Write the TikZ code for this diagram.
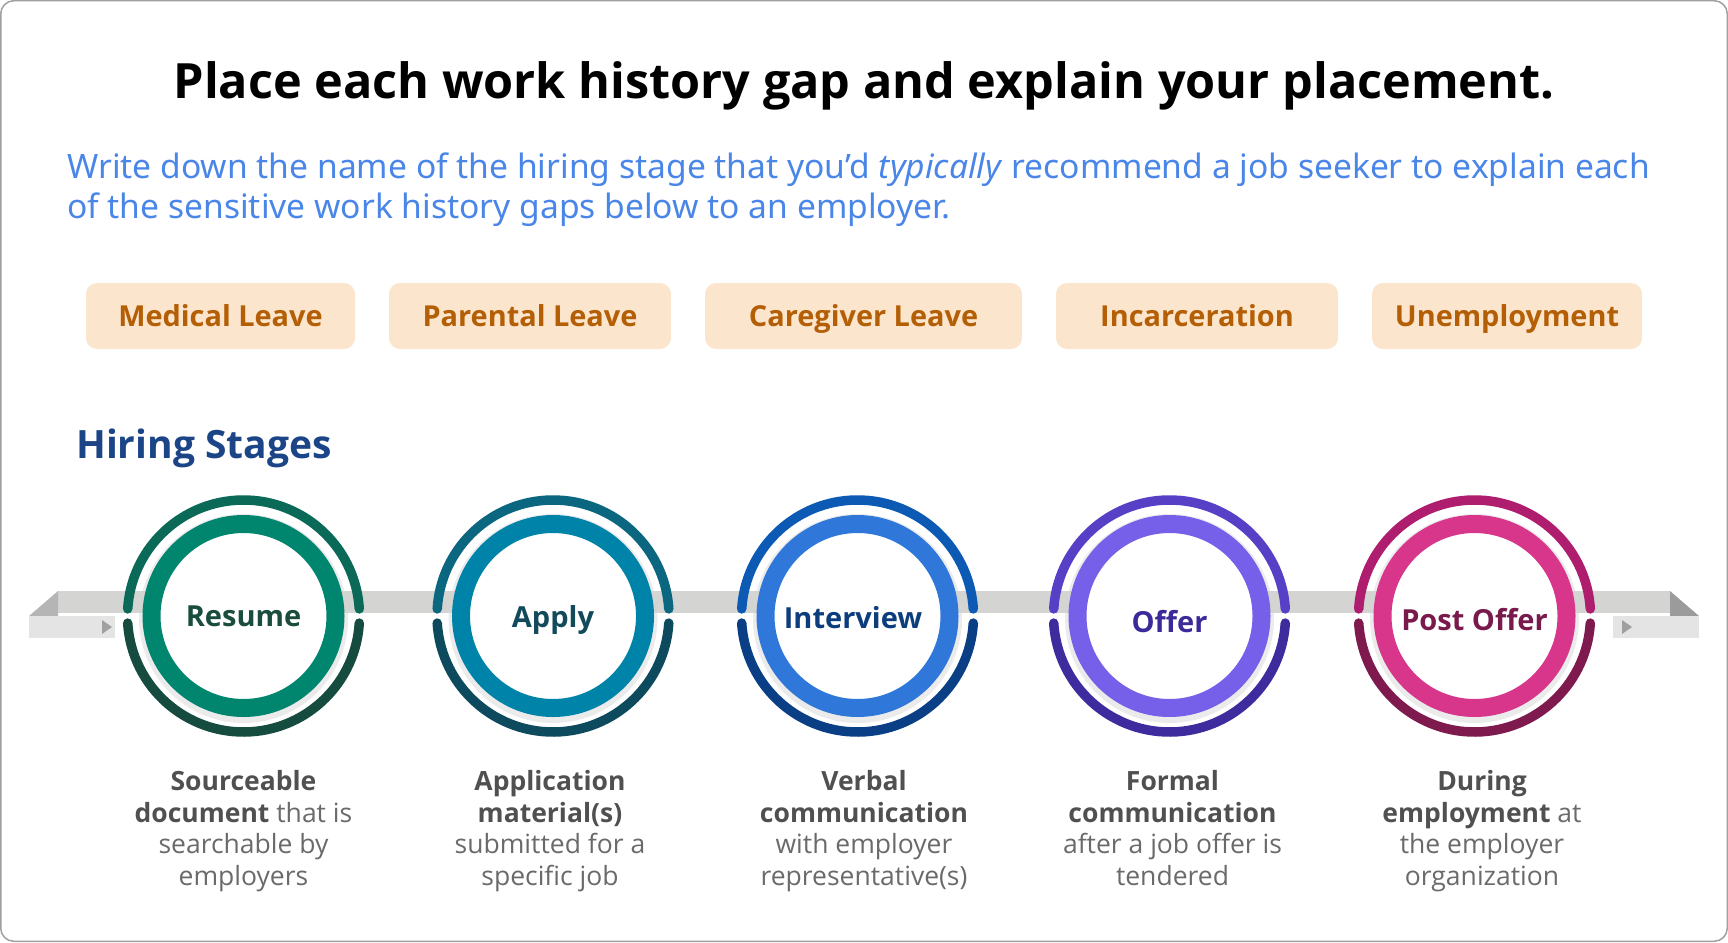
\documentclass[tikz,border=0pt]{standalone}
\usepackage{fontspec}
\setmainfont{Noto Sans}
\newfontfamily\osans{Open Sans}
\definecolor{framecol}{HTML}{A0A0A0}
\definecolor{introblue}{HTML}{4A86E8}
\definecolor{tagfill}{HTML}{FCE5CD}
\definecolor{tagtext}{HTML}{B45F06}
\definecolor{hiring}{HTML}{1C4587}
\definecolor{bandcol}{HTML}{D4D4D2}
\definecolor{foldl}{HTML}{B5B5B5}
\definecolor{foldr}{HTML}{9B9B9B}
\definecolor{stripcol}{HTML}{E4E4E4}
\definecolor{arrowcol}{HTML}{A0A0A0}
\definecolor{desctext}{HTML}{6A6A6A}
\definecolor{descbold}{HTML}{505050}
\definecolor{ringA}{HTML}{00866E}\definecolor{upA}{HTML}{0B6A57}\definecolor{lowA}{HTML}{154C3F}\definecolor{txtA}{HTML}{1B4D3E}
\definecolor{ringB}{HTML}{0083A8}\definecolor{upB}{HTML}{0B6680}\definecolor{lowB}{HTML}{0D4A5E}\definecolor{txtB}{HTML}{124A5C}
\definecolor{ringC}{HTML}{2F78DA}\definecolor{upC}{HTML}{0D5AB5}\definecolor{lowC}{HTML}{0A3F86}\definecolor{txtC}{HTML}{0C3D7C}
\definecolor{ringD}{HTML}{7660EA}\definecolor{upD}{HTML}{5840C6}\definecolor{lowD}{HTML}{3E2C9E}\definecolor{txtD}{HTML}{3B2A99}
\definecolor{ringE}{HTML}{D8368A}\definecolor{upE}{HTML}{AE1D6E}\definecolor{lowE}{HTML}{7E1A4E}\definecolor{txtE}{HTML}{781A4B}
\newcommand{\bd}[1]{{\color{descbold}\bfseries #1}}
\newcommand{\mkshadow}[1]{\fill[black!8] (#1,-618.5) circle[radius=104.5];}
\newcommand{\mkstage}[4]{%
  \node[ring, draw=#2] (#1) at (#3) {};
  \draw[arcline, draw=up#4] ([shift={(3.5:116)}]#1.center) arc[start angle=3.5, end angle=176.5, radius=116];
  \draw[arcline, draw=low#4] ([shift={(183.5:116)}]#1.center) arc[start angle=183.5, end angle=356.5, radius=116];
}
\begin{document}
\begin{tikzpicture}[x=1pt,y=1pt,
  tag/.style={rounded corners=11, fill=tagfill, text=tagtext, minimum height=66, inner sep=0,
    text height=21, text depth=0, font=\osans\bfseries\fontsize{28.9}{34}\selectfont},
  ring/.style={circle, minimum size=184, line width=18, fill=white, inner sep=0},
  arcline/.style={line width=9.5, line cap=round},
  lab/.style={anchor=base, inner sep=0, font=\osans\bfseries\fontsize{29}{35}\selectfont},
  desc/.style={anchor=north, align=center, inner sep=0, text=desctext, font=\osans\fontsize{26.5}{31.7}\selectfont},
  intro/.style={anchor=base west, inner sep=0, text=introblue, font=\fontsize{33.6}{40}\selectfont},
]
\useasboundingbox (0,0) rectangle (1728,-942);
\draw[framecol, line width=1.5, rounded corners=13] (0.75,-0.75) rectangle (1727.25,-941.25);

\node[anchor=base, inner sep=0, font=\osans\bfseries\fontsize{48.6}{58}\selectfont] (title) at (864,-98)
  {Place each work history gap and explain your placement.};

\node[intro] (p1) at (67,-178)
  {Write down the name of the hiring stage that you’d \textit{typically} recommend a job seeker to explain each};
\node[intro] (p2) at (67,-218)
  {of the sensitive work history gaps below to an employer.};

\node[tag, minimum width=269] (t1) at (220.5,-316) {Medical Leave};
\node[tag, minimum width=282] (t2) at (530,-316) {Parental Leave};
\node[tag, minimum width=317] (t3) at (863.5,-316) {Caregiver Leave};
\node[tag, minimum width=282] (t4) at (1197,-316) {Incarceration};
\node[tag, minimum width=270] (t5) at (1507,-316) {Unemployment};

\node[anchor=base west, inner sep=0, text=hiring, font=\osans\bfseries\fontsize{39}{46}\selectfont] (hs) at (76,-458) {Hiring Stages};

% shadows
\mkshadow{243.5}\mkshadow{553}\mkshadow{857.5}\mkshadow{1169.5}\mkshadow{1474.5}

% ribbon band
\fill[bandcol] (58,-591) rectangle (1670,-613);
\fill[foldl] (58,-591) -- (29,-616) -- (58,-616) -- cycle;
\fill[stripcol] (29,-616) rectangle (115,-638);
\fill[arrowcol] (102,-620) -- (112,-627) -- (102,-634) -- cycle;
\fill[foldr] (1670,-591) -- (1699,-616) -- (1670,-616) -- cycle;
\fill[stripcol] (1613,-616) rectangle (1699,-638);
\fill[arrowcol] (1622,-620) -- (1632,-627) -- (1622,-634) -- cycle;

% stages
\mkstage{s1}{ringA}{243.5,-616}{A}
\mkstage{s2}{ringB}{553,-616}{B}
\mkstage{s3}{ringC}{857.5,-616}{C}
\mkstage{s4}{ringD}{1169.5,-616}{D}
\mkstage{s5}{ringE}{1474.5,-616}{E}

\node[lab, text=txtA] (l1) at (243.5,-626) {Resume};
\node[lab, text=txtB] (l2) at (553,-627) {Apply};
\node[lab, text=txtC] (l3) at (853,-628) {Interview};
\node[lab, text=txtD] (l4) at (1169.5,-632) {Offer};
\node[lab, text=txtE] (l5) at (1474.5,-630) {Post Offer};

\node[desc] (d1) at (243.5,-770) {\bd{Sourceable}\\\bd{document} that is\\searchable by\\employers};
\node[desc] (d2) at (550,-770) {\bd{Application}\\\bd{material(s)}\\submitted for a\\specific job};
\node[desc] (d3) at (864,-770) {\bd{Verbal}\\\bd{communication}\\with employer\\representative(s)};
\node[desc] (d4) at (1172.5,-770) {\bd{Formal}\\\bd{communication}\\after a job offer is\\tendered};
\node[desc] (d5) at (1482,-770) {\bd{During}\\\bd{employment} at\\the employer\\organization};
\end{tikzpicture}
\end{document}
